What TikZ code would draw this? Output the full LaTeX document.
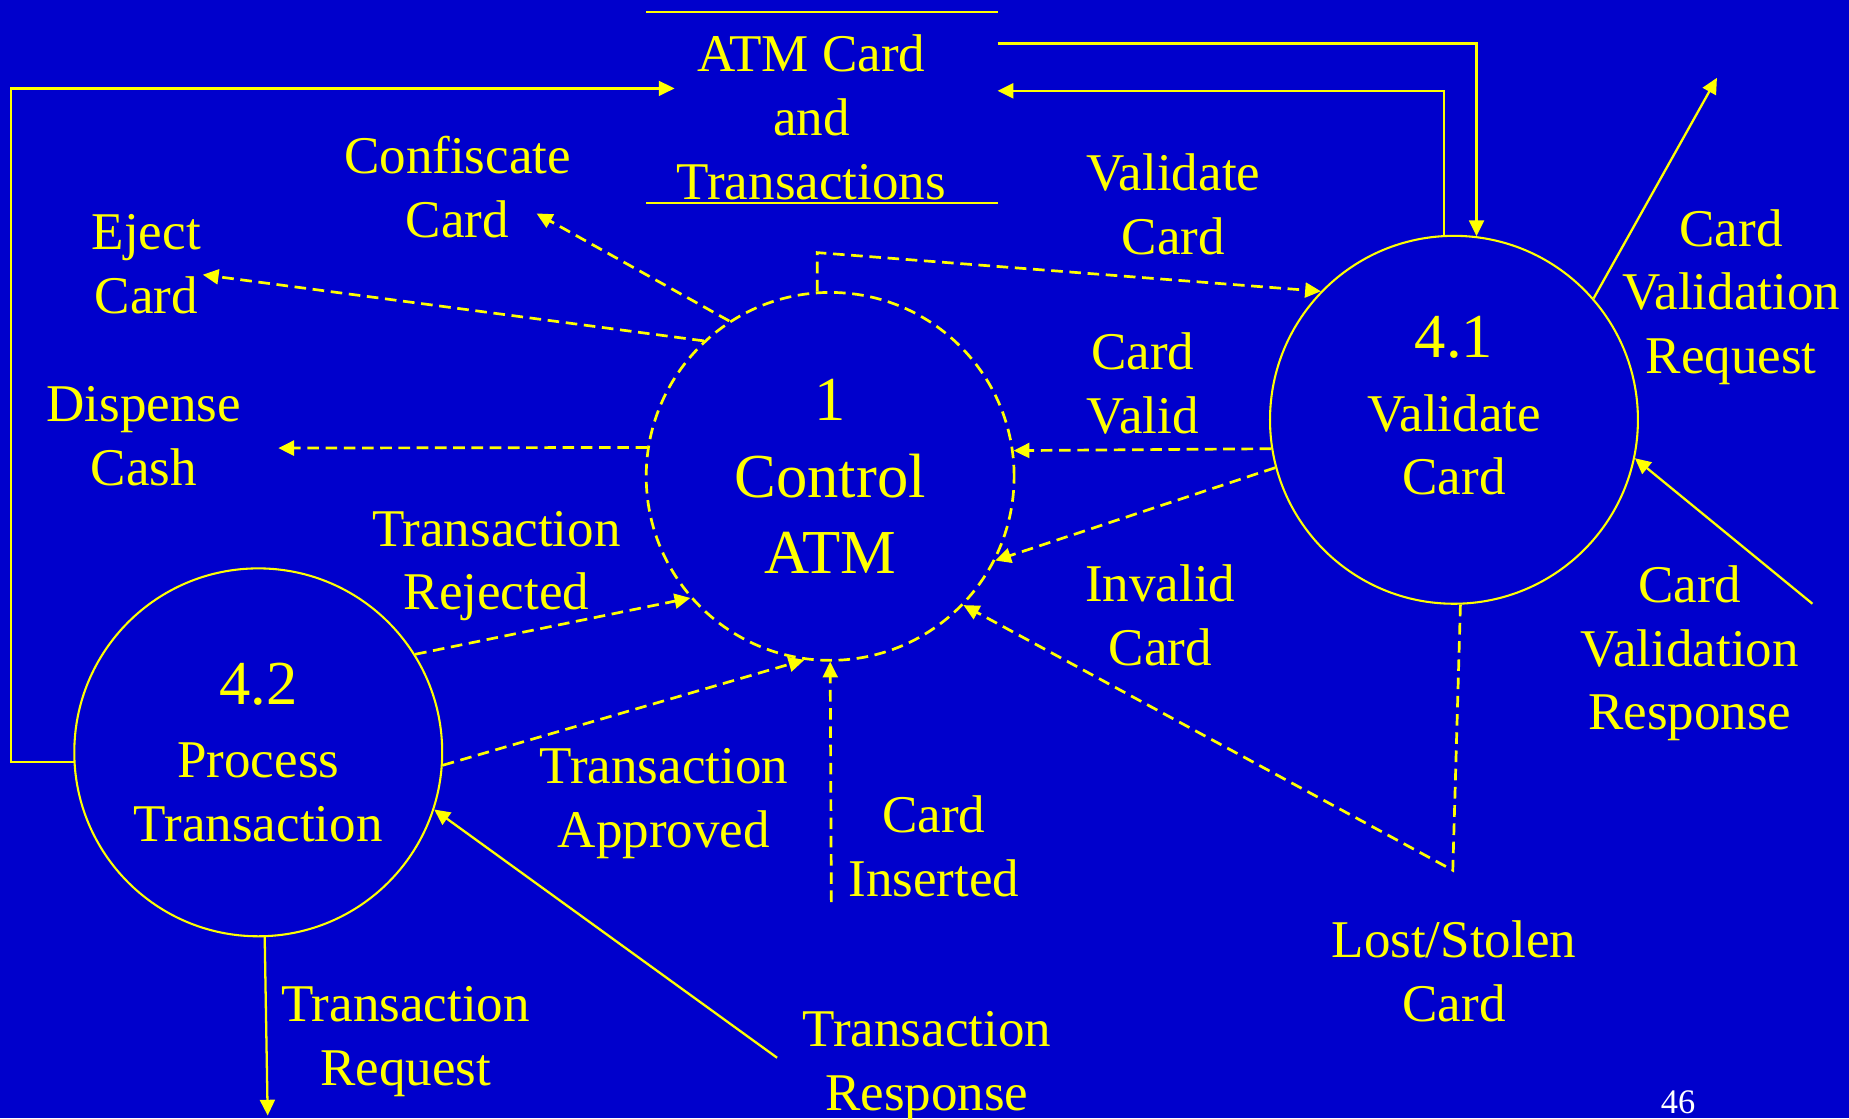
\documentclass[tikz,border=0pt]{standalone}
\usepackage{fontspec}
\setmainfont{Liberation Serif}
\usetikzlibrary{positioning, arrows.meta}
\definecolor{slideblue}{RGB}{0,0,204}
\definecolor{slideyellow}{RGB}{255,255,0}
\newcommand{\procfont}{\fontsize{15.1pt}{18.5pt}\selectfont}
\newcommand{\flowfont}{\fontsize{12.8pt}{15.4pt}\selectfont}

\begin{document}
\begin{tikzpicture}[x=1cm,y=-1cm,>={Triangle[length=3.8pt,width=3.6pt]},font=\flowfont]
  \tikzstyle{proc}=[circle,draw=slideyellow,text=slideyellow,line width=0.5pt,minimum size=3.12cm,inner sep=0pt,align=center]
  \tikzstyle{ctl}=[proc,line width=0.65pt,dash pattern=on 2.8pt off 1.6pt,font=\procfont]
  \tikzstyle{flow}=[->,color=slideyellow,line width=0.55pt]
  \tikzstyle{ctlflow}=[flow,line width=0.65pt,dash pattern=on 2.8pt off 1.6pt]
  \tikzstyle{lbl}=[text=slideyellow,align=center,inner sep=0pt]
  \fill[slideblue] (0,0) rectangle (15.68,9.481);
  \useasboundingbox (0,0) rectangle (15.68,9.481);
  % processes
  \node[ctl] (ctrl) at (7.04,4.04) {1\\Control\\ATM};
  \node[proc,text depth=6.8pt] (val) at (12.33,3.56) {{\procfont 4.1}\\[2.3pt]Validate\\Card};
  \node[proc] (proc) at (2.19,6.38) {{\procfont 4.2}\\[2.3pt]Process\\Transaction};
  % data store
  \node[lbl] (store) at (6.88,0.995) {ATM Card\\and\\Transactions};
  \draw[slideyellow,line width=0.55pt] (5.48,0.10) -- (8.46,0.10) (5.48,1.72) -- (8.46,1.72);
  % free ends
  \coordinate (storeL) at (5.72,0.75);
  \coordinate (storeR1) at (8.46,0.37);
  \coordinate (storeR2) at (8.46,0.77);
  \coordinate (cfEnd) at (4.55,1.81);
  \coordinate (ejEnd) at (1.72,2.33);
  \coordinate (dcEnd) at (2.36,3.80);
  \coordinate (cardin) at (7.05,7.65);
  \coordinate (lostcard) at (12.32,7.38);
  \coordinate (cvreq) at (14.56,0.66);
  \coordinate (cvresp) at (15.37,5.12);
  \coordinate (treq) at (2.27,9.46);
  \coordinate (tresp) at (6.59,8.97);
  % store flows
  \draw[flow] (proc.183) -- ++(-0.53,0) |- (storeL);
  \draw[flow] (storeR1) -| (val.83);
  \draw[flow] (val.93) |- (storeR2);
  % control flows
  \draw[ctlflow] (ctrl.94) -- ++(0,-0.33) -- (val.136);
  \path[ctlflow] (ctrl.123) edge (cfEnd)
        (ctrl.133) edge (ejEnd)
        (ctrl.171) edge (dcEnd)
        (val.189) edge (ctrl.8.5)
        (val.195) edge (ctrl.-27)
        (proc.32) edge (ctrl.221)
        (proc.-4) edge (ctrl.262)
        (cardin) edge (ctrl.south);
  \draw[ctlflow] (val.272.6) -- (lostcard) -- (ctrl.-44);
  % data flows
  \path[flow] (val.41) edge (cvreq)
        (cvresp) edge (val.-12.5)
        (proc.272) edge (treq)
        (tresp) edge (proc.-18);
  % labels
  \node[lbl] (vclbl) at (9.95,1.73) {Validate\\Card};
  \node[lbl] (cflbl) at (3.88,1.59) {Confiscate\\Card};
  \node[lbl] (ejlbl) at (1.24,2.24) {Eject\\Card};
  \node[lbl] (dclbl) at (1.22,3.70) {Dispense\\Cash};
  \node[lbl] (cvlbl) at (9.69,3.25) {Card\\Valid};
  \node[lbl] (iclbl) at (9.84,5.215) {Invalid\\Card};
  \node[lbl] (trlbl) at (4.21,4.80) {Transaction\\Rejected};
  \node[lbl] (talbl) at (5.63,6.815) {Transaction\\Approved};
  \node[lbl] (cilbl) at (7.92,7.18) {Card\\Inserted};
  \node[lbl] (lslbl) at (12.33,8.24) {Lost/Stolen\\Card};
  \node[lbl] (cvqlbl) at (14.68,2.52) {Card\\Validation\\Request};
  \node[lbl] (cvplbl) at (14.33,5.54) {Card\\Validation\\Response};
  \node[lbl] (tqlbl) at (3.44,8.835) {Transaction\\Request};
  \node[lbl] (tplbl) at (7.86,9.045) {Transaction\\Response};
  \node[text=white,font=\fontsize{8.3pt}{10pt}\selectfont] (pagenum) at (14.23,9.35) {46};
\end{tikzpicture}
\end{document}
